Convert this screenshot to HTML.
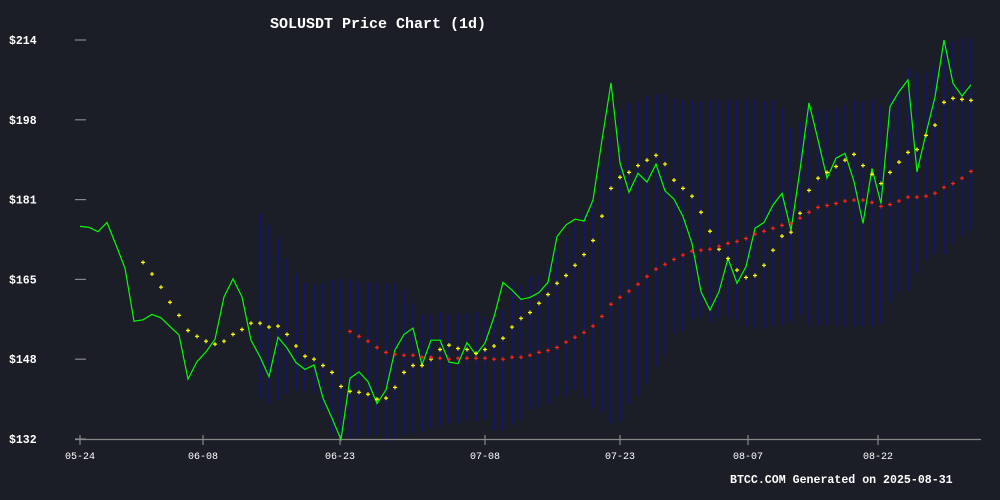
<!DOCTYPE html>
<html><head><meta charset="utf-8"><style>
html,body{margin:0;padding:0;background:#1b1e27;}
svg{display:block;}
text{font-family:"Liberation Mono","DejaVu Sans Mono",monospace;fill:#fff;}
</style></head><body>
<svg id="chart" width="1000" height="500" viewBox="0 0 1000 500" xmlns="http://www.w3.org/2000/svg">
<rect width="1000" height="500" fill="#1b1e27"/>
<text x="378" y="28" text-anchor="middle" font-size="15" font-weight="bold">SOLUSDT Price Chart (1d)</text>
<g id="bars"></g>
<g id="axes"></g>
<path id="price" fill="none" stroke="#00ff00" stroke-width="1.2"/>
<g id="ma1"></g>
<g id="ma2"></g>
<text x="730" y="483" font-size="11.6" font-weight="bold">BTCC.COM Generated on 2025-08-31</text>
</svg>
<script>
const price=[175.7,175.5,174.6,176.5,171.9,167.1,156.2,156.5,157.6,156.9,155.1,153.4,144.3,147.9,149.9,152.5,161.2,164.9,161.2,152.3,148.9,144.8,152.9,150.7,147.7,146.3,147.2,140.4,136.3,131.9,144.5,145.8,143.8,139.3,142.1,150.3,153.5,154.8,147.2,152.3,152.3,147.8,147.5,151.8,149.3,151.7,157.1,164.2,162.6,160.7,161.1,162.1,164.2,173.6,176.0,177.2,176.8,181.1,193.5,205.2,188.7,182.7,186.6,184.8,188.5,183.0,181.3,177.7,172.2,162.3,158.5,162.3,169.1,164.0,167.4,175.3,176.5,180.1,182.5,174.9,187.3,201.1,193.5,185.6,189.7,190.7,184.9,176.3,187.6,180.4,200.3,203.4,205.8,186.9,194.8,202.3,214.0,205.1,202.5,204.8];
const maShortStart=7;
const maShort=[168.3,165.9,163.2,160.1,157.4,154.3,153.1,152.1,151.5,152.1,153.5,154.5,155.8,155.8,155.0,155.2,153.5,151.1,149.0,148.4,147.1,145.7,142.8,141.8,141.6,141.2,140.2,140.4,142.6,145.7,147.1,147.1,148.4,150.4,151.3,150.6,150.4,149.6,150.4,151.1,152.7,155.0,156.8,158.0,159.9,161.7,164.0,165.6,167.7,169.9,172.8,177.8,183.5,185.8,186.8,188.2,189.3,190.3,188.5,185.2,183.5,181.9,178.6,174.7,171.0,169.1,166.7,165.2,165.6,167.7,170.8,173.7,174.5,178.4,183.1,185.6,186.8,188.0,189.3,190.5,188.2,186.4,184.5,186.8,188.9,190.9,191.5,194.4,196.5,201.2,202.0,201.8,201.6];
const maLongStart=30;
const maLong=[154.1,153.1,152.1,150.8,149.8,149.4,149.2,149.2,148.8,148.8,148.6,148.4,148.6,148.6,148.6,148.6,148.4,148.4,148.8,148.8,149.2,149.8,150.2,150.8,151.9,152.9,153.9,155.2,157.2,159.7,161.1,162.4,163.8,165.4,166.9,167.9,168.9,169.8,170.6,170.8,171.0,171.6,172.2,172.6,173.2,174.1,174.7,175.3,175.9,176.3,177.4,178.6,179.6,180.0,180.4,180.9,181.1,181.1,180.6,179.8,180.2,180.9,181.7,181.7,181.9,182.5,183.7,184.5,185.6,187.0];
const bandStart=20;
const bandUpper=[178.4,176.0,173.5,169.1,166.1,164.1,163.9,164.0,164.8,165.0,164.8,164.3,164.3,164.1,164.0,164.0,162.6,159.9,157.5,157.5,158.2,157.5,157.8,157.8,158.2,157.1,158.2,158.5,164.0,163.6,165.4,165.7,167.7,171.2,173.6,176.3,178.4,181.1,188.7,194.1,199.6,201.0,201.3,202.5,202.9,202.7,202.0,201.7,201.7,201.3,201.7,201.7,201.7,201.7,201.8,201.7,201.3,201.7,200.0,195.9,197.2,200.6,199.6,199.6,200.0,200.6,201.7,201.3,201.7,200.6,202.7,204.4,208.2,207.2,207.2,208.5,213.3,213.7,214.4,214.4];
const bandLower=[140.4,139.3,140.0,141.4,141.9,141.9,141.4,138.0,133.2,132.0,131.8,132.5,132.8,132.8,131.4,131.8,132.8,133.2,133.5,134.2,134.5,135.2,135.2,135.9,135.6,135.9,133.9,133.9,134.9,135.9,137.9,138.6,139.3,140.7,140.7,142.1,140.4,138.3,137.6,135.2,135.6,139.3,141.0,143.4,146.8,149.3,153.6,154.1,156.5,157.1,156.1,156.8,157.1,156.5,155.1,154.7,154.7,155.1,155.4,155.8,157.5,155.4,155.4,155.4,155.4,155.1,155.1,155.1,155.1,155.8,160.2,162.3,162.6,166.1,168.8,170.1,170.1,172.2,173.6,174.9];
const yTicks=[132,148.4,164.8,181.2,197.6,214];
const yTickLabels=["$132","$148","$165","$181","$198","$214"];
const xTickIdx=[0,13.67,28.89,45,60,74.22,88.67];
const xTickLabels=["05-24","06-08","06-23","07-08","07-23","08-07","08-22"];

const NS="http://www.w3.org/2000/svg";
const X=i=>80+i*9.0;
const Y=v=>40+(214-v)*(399/82);
function mk(tag,attrs,parent){const e=document.createElementNS(NS,tag);for(const k in attrs)e.setAttribute(k,attrs[k]);parent.appendChild(e);return e;}

const bars=document.getElementById('bars');
bandUpper.forEach((u,j)=>{
  const i=bandStart+j;
  const l=mk('line',{x1:X(i),x2:X(i),y1:Y(u),y2:Y(bandLower[j]),stroke:'#12128c','stroke-width':1.3},bars);
  
  
});

const axes=document.getElementById('axes');
const ax=mk('line',{x1:75,x2:981,y1:439.5,y2:439.5,stroke:'#888','stroke-width':1.2},axes);


yTicks.forEach((v,k)=>{
  const t=mk('line',{x1:75,x2:86,y1:Y(v),y2:Y(v),stroke:'#888','stroke-width':1.2},axes);
  
  
  const tx=mk('text',{x:9,y:Y(v)+4,'font-size':11.5,'font-weight':'bold'},axes);
  tx.textContent=yTickLabels[k];
  
  
});
xTickIdx.forEach((i,k)=>{
  const t=mk('line',{x1:X(i),x2:X(i),y1:435,y2:445,stroke:'#888','stroke-width':1.2},axes);
  
  
  const tx=mk('text',{x:X(i),y:459,'font-size':10,'text-anchor':'middle'},axes);
  tx.textContent=xTickLabels[k];
  
  
});

document.getElementById('price').setAttribute('d',price.map((v,i)=>(i?'L':'M')+X(i).toFixed(1)+' '+Y(v).toFixed(1)).join(' '));

function dots(arr,start,color,gid,name){
  const g=document.getElementById(gid);
  arr.forEach((v,j)=>{
    const cx=X(start+j),cy=Y(v);
    const p=mk('path',{d:`M${cx-2} ${cy}H${cx+2}M${cx} ${cy-2}V${cy+2}`,stroke:color,'stroke-width':1.2},g);
    
    
  });
}
dots(maShort,maShortStart,'#ffff00','ma1','short-ma-dot');
dots(maLong,maLongStart,'#ff2020','ma2','long-ma-dot');
</script>
</body></html>
